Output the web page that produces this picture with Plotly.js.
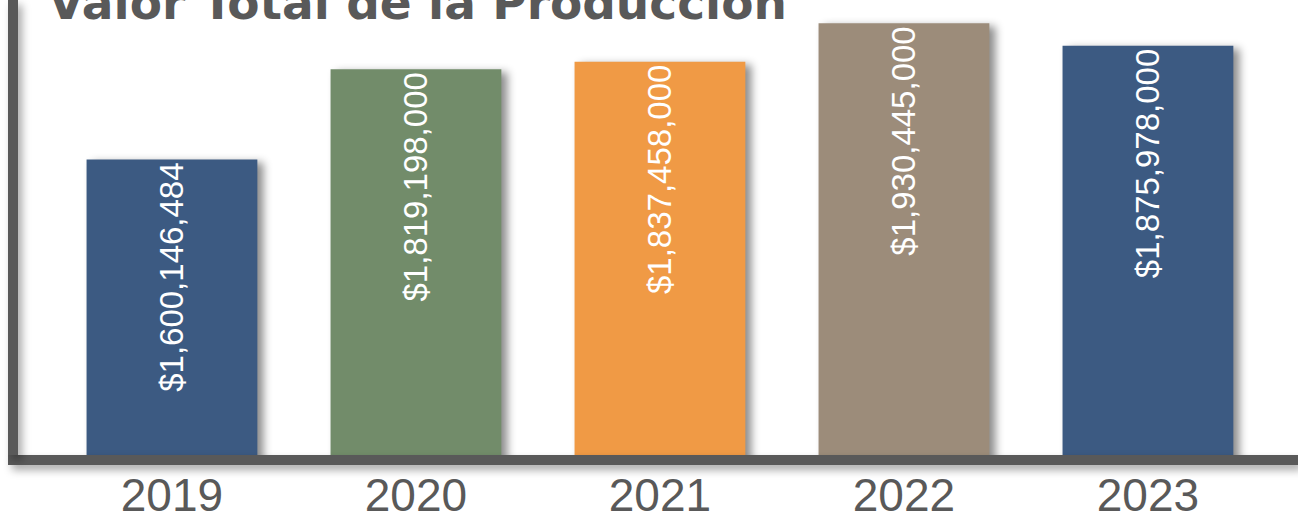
<!DOCTYPE html>
<html>
<head>
<meta charset="utf-8">
<script src="https://cdn.plot.ly/plotly-3.0.1.min.js"></script>
<style>
  html, body { margin: 0; padding: 0; background: #ffffff; }
  #chart { width: 1298px; height: 511px; }
  .barlayer .point path { filter: drop-shadow(6px 3px 4px rgba(0,0,0,0.45)); }
  .xlines-above, .ylines-above { filter: drop-shadow(4px 5px 4px rgba(0,0,0,0.35)); }
</style>
</head>
<body>
<div id="chart"></div>
<script>
// Data
const years = ['2019', '2020', '2021', '2022', '2023'];
const values = [1600146484, 1819198000, 1837458000, 1930445000, 1875978000];
const barColors = ['#3C5A82', '#728C6A', '#F09A45', '#9C8C7A', '#3C5A82'];
const chartTitle = 'Valor Total de la Producción';

const labels = values.map(v => '$' + v.toLocaleString('en-US'));

const trace = {
  type: 'bar',
  x: years,
  y: values,
  marker: { color: barColors, line: { width: 0 } },
  text: labels,
  textposition: 'inside',
  insidetextanchor: 'end',
  textangle: -90,
  textfont: { family: 'Liberation Sans, Arial, sans-serif', size: 33, color: '#ffffff' },
  hoverinfo: 'none',
  cliponaxis: true
};

const layout = {
  width: 1298,
  height: 511,
  margin: { l: 18, r: 0, t: 0, b: 56 },
  paper_bgcolor: '#ffffff',
  plot_bgcolor: '#ffffff',
  showlegend: false,
  bargap: 0.30,
  title: {
    text: chartTitle,
    font: { family: 'DejaVu Sans, sans-serif', size: 47, color: '#595959', weight: 'bold' },
    x: 48 / 1298,
    xanchor: 'left',
    xref: 'container',
    yref: 'container',
    y: 0.996,
    yanchor: 'middle'
  },
  xaxis: {
    type: 'category',
    range: [-0.631, 4.615],
    showline: true,
    linecolor: '#595959',
    linewidth: 10,
    showgrid: false,
    zeroline: false,
    ticks: '',
    ticklabelstandoff: -9,
    tickfont: { family: 'Liberation Sans, Arial, sans-serif', size: 46, color: '#595959' },
    fixedrange: true
  },
  yaxis: {
    range: [883000000, 1987000000],
    showline: true,
    linecolor: '#595959',
    linewidth: 10,
    showgrid: false,
    zeroline: false,
    showticklabels: false,
    ticks: '',
    fixedrange: true
  }
};

Plotly.newPlot('chart', [trace], layout, { displayModeBar: false, staticPlot: true });
</script>
</body>
</html>
